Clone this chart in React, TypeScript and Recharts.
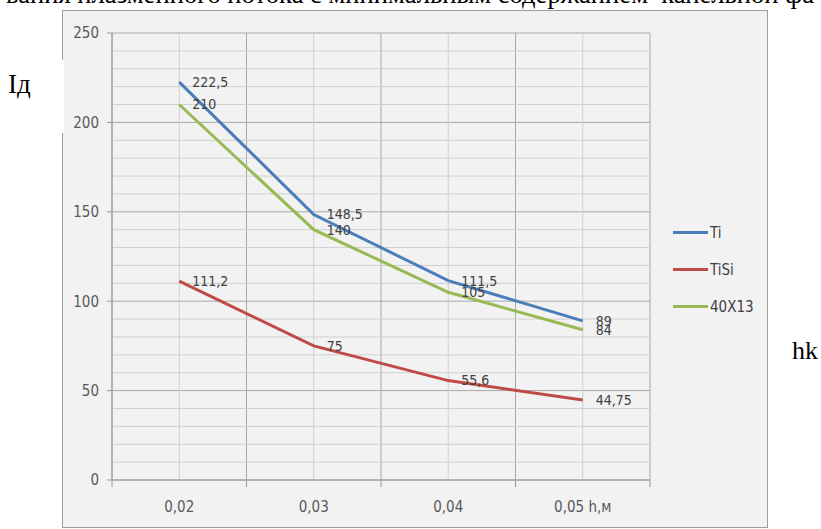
import React from 'react';
import {
    LineChart,
    Line,
    XAxis,
    YAxis,
    CartesianGrid,
    Legend,
    LabelList
} from 'recharts';

// значения по оси h, м
const X_VALUES = [0.02, 0.03, 0.04, 0.05];
const X_LABELS = ['0,02', '0,03', '0,04', '0,05 h,м'];
// границы категорий (там же засечки и основные вертикальные линии)
const X_BOUNDS = [0.015, 0.025, 0.035, 0.045, 0.055];

// ток дуги по материалам
const TI = [222.5, 148.5, 111.5, 89];
const TISI = [111.2, 75, 55.6, 44.75];
const STEEL = [210, 140, 105, 84];

const Y_MAJOR = [0, 50, 100, 150, 200, 250];
const Y_MINOR = [10, 20, 30, 40, 60, 70, 80, 90, 110, 120, 130, 140, 160, 170, 180, 190, 210, 220, 230, 240];

const SERIES = [
    { key: 'ti', name: 'Ti', color: '#4a7ebb' },
    { key: 'tisi', name: 'TiSi', color: '#be4b48' },
    { key: 'steel', name: '40X13', color: '#98b954' },
];

const data = X_VALUES.map((x, i) => ({
    x,
    ti: TI[i],
    tisi: TISI[i],
    steel: STEEL[i],
}));

const FONT = "'Liberation Sans Narrow', 'DejaVu Sans Condensed', 'Open Sans', sans-serif";
const SERIF = "'Liberation Serif', 'DejaVu Serif', serif";

const fmt = (v: number) => String(v).replace('.', ',');

const yPix = (props: any, v: number) => {
    const s = props.yAxis && props.yAxis.scale;
    if (typeof s === 'function') return s(v);
    return props.offset.top + props.offset.height * (1 - v / 250);
};

const xPix = (props: any, v: number) => {
    const s = props.xAxis && props.xAxis.scale;
    if (typeof s === 'function') return s(v);
    return props.offset.left + props.offset.width * ((v - 0.015) / 0.04);
};

const XTick = (props: any) => {
    const { x, y, payload } = props;
    const v = payload.value;
    const idx = X_VALUES.findIndex((c) => Math.abs(c - v) < 1e-6);
    if (idx < 0) {
        return <line x1={x} x2={x} y1={y} y2={y + 7} stroke="#9a9a9a" strokeWidth={1} />;
    }
    return (
        <text x={x} y={y + 27} dy="0.35em" textAnchor="middle" fill="#595959" fontSize={15} fontFamily={FONT}>
            {X_LABELS[idx]}
        </text>
    );
};

const renderLabel = (props: any) => {
    const x = props.x ?? props.viewBox?.x;
    const y = props.y ?? props.viewBox?.y;
    return (
        <text x={x + 13} y={y} dy="0.35em" fill="#404040" fontSize={14} fontFamily={FONT}>
            {fmt(props.value)}
        </text>
    );
};

const renderLegend = () => (
    <div style={{ fontFamily: FONT, fontSize: 15, color: '#404040' }}>
        {SERIES.map((s) => (
            <div key={s.key} style={{ height: 37, display: 'flex', alignItems: 'center' }}>
                <span style={{ display: 'inline-block', width: 35, height: 3, background: s.color, marginRight: 2 }} />
                <span>{s.name}</span>
            </div>
        ))}
    </div>
);

export default function App() {
    return (
        <div style={{ position: 'absolute', left: 0, top: 0, width: 821, height: 529, overflow: 'hidden', background: '#fff' }}>
            <div
                style={{
                    position: 'absolute',
                    left: 6,
                    top: -21,
                    fontFamily: SERIF,
                    fontSize: 26.6,
                    whiteSpace: 'pre',
                    color: '#000',
                }}
            >
                {'вания плазменного потока с минимальным содержанием  капельной фа'}
            </div>

            <div
                style={{
                    position: 'absolute',
                    left: 62,
                    top: 10,
                    width: 704,
                    height: 516,
                    border: '1px solid #9c9c9c',
                    background: '#f2f2f2',
                }}
            >
                <LineChart
                    width={704}
                    height={516}
                    data={data}
                    margin={{ top: 22, right: 117, bottom: 7, left: 0 }}
                >
                    <CartesianGrid
                        stroke="#a8a8a8"
                        strokeWidth={1}
                        horizontalCoordinatesGenerator={(p: any) => Y_MAJOR.map((v) => yPix(p, v))}
                        verticalCoordinatesGenerator={(p: any) => X_BOUNDS.map((v) => xPix(p, v))}
                    />
                    <CartesianGrid
                        stroke="#cfcfcf"
                        strokeWidth={1}
                        horizontalCoordinatesGenerator={(p: any) => Y_MINOR.map((v) => yPix(p, v))}
                        verticalCoordinatesGenerator={(p: any) => X_VALUES.map((v) => xPix(p, v))}
                    />
                    <XAxis
                        dataKey="x"
                        type="number"
                        domain={[0.015, 0.055]}
                        ticks={[...X_BOUNDS, ...X_VALUES].sort((a, b) => a - b)}
                        interval={0}
                        tick={<XTick />}
                        tickLine={false}
                        tickSize={0}
                        tickMargin={0}
                        height={40}
                        axisLine={{ stroke: '#9a9a9a' }}
                    />
                    <YAxis
                        type="number"
                        domain={[0, 250]}
                        ticks={Y_MAJOR}
                        interval={0}
                        width={49}
                        tickSize={5}
                        tickMargin={8}
                        tick={{ fill: '#595959', fontSize: 15, fontFamily: FONT }}
                        tickLine={{ stroke: '#9a9a9a' }}
                        axisLine={{ stroke: '#9a9a9a' }}
                    />
                    <Legend
                        layout="vertical"
                        align="center"
                        verticalAlign="middle"
                        content={renderLegend}
                        wrapperStyle={{ position: 'absolute', left: 610, top: 203, width: 90 }}
                    />
                    {SERIES.map((s) => (
                        <Line
                            key={s.key}
                            type="linear"
                            dataKey={s.key}
                            name={s.name}
                            stroke={s.color}
                            strokeWidth={3}
                            dot={false}
                            isAnimationActive={false}
                        >
                            <LabelList dataKey={s.key} content={renderLabel} />
                        </Line>
                    ))}
                </LineChart>
            </div>

            <div
                style={{
                    position: 'absolute',
                    left: 0,
                    top: 60,
                    width: 64,
                    height: 73,
                    background: '#fff',
                }}
            >
                <span style={{ position: 'absolute', left: 8, top: 9, fontFamily: SERIF, fontSize: 27, color: '#000' }}>
                    Iд
                </span>
            </div>

            <div style={{ position: 'absolute', left: 792, top: 336, fontFamily: SERIF, fontSize: 26, color: '#000' }}>
                hk
            </div>
        </div>
    );
}
